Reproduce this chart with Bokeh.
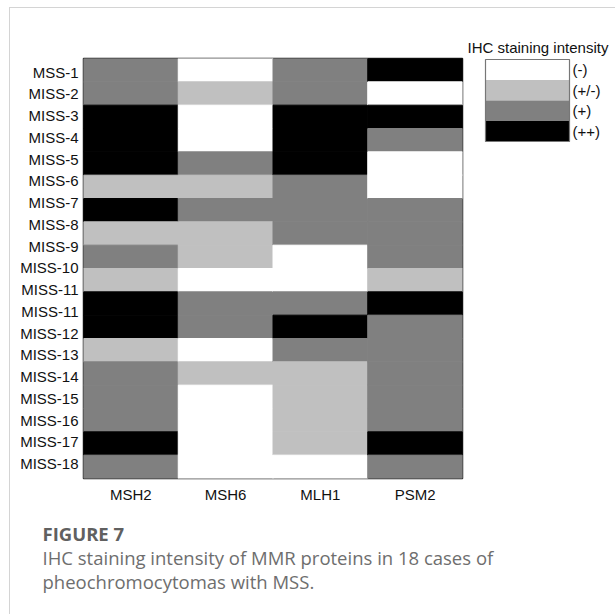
from bokeh.plotting import figure
from bokeh.layouts import column, row
from bokeh.models import Range1d, FixedTicker, ColumnDataSource
from bokeh.core.properties import value
from bokeh.embed import file_html
from bokeh.resources import INLINE

# ---------------- data ----------------
proteins = ["MSH2", "MSH6", "MLH1", "PSM2"]
case_labels = ["MSS-1", "MISS-2", "MISS-3", "MISS-4", "MISS-5", "MISS-6", "MISS-7",
               "MISS-8", "MISS-9", "MISS-10", "MISS-11", "MISS-11", "MISS-12",
               "MISS-13", "MISS-14", "MISS-15", "MISS-16", "MISS-17", "MISS-18"]
# intensity level per case row (top to bottom): 0 = (-), 1 = (+/-), 2 = (+), 3 = (++)
MSH2 = [2, 2, 3, 3, 3, 1, 3, 1, 2, 1, 3, 3, 1, 2, 2, 2, 3, 2]
MSH6 = [0, 1, 0, 0, 2, 1, 2, 1, 1, 0, 2, 2, 0, 1, 0, 0, 0, 0]
MLH1 = [2, 2, 3, 3, 3, 2, 2, 2, 0, 0, 2, 3, 2, 1, 1, 1, 1, 0]
PSM2 = [3, 0, 3, 2, 0, 0, 2, 2, 2, 1, 3, 2, 2, 2, 2, 2, 3, 2]
intensity_labels = ["(-)", "(+/-)", "(+)", "(++)"]
intensity_colors = ["#ffffff", "#c0c0c0", "#808080", "#000000"]
legend_title = "IHC staining intensity"
caption_head = "FIGURE 7"
caption_lines = ["IHC staining intensity of MMR proteins in 18 cases of",
                 "pheochromocytomas with MSS."]

series = [MSH2, MSH6, MLH1, PSM2]
n_rows = len(MSH2)
n_cols = len(proteins)

# ---------------- layout (page pixels) ----------------
OX, OY = 10, 8                 # content origin (inside the page border lines)
FRAME_L, FRAME_T, FRAME_W, FRAME_H = 83, 58, 379, 420
TOP_Y = 56                     # end of the strip holding the legend title
SPLIT_X, SPLIT_Y = 466, 514    # heatmap/legend split, top/caption split
PAGE_W, PAGE_H = 615, 614
FONT = "Liberation Sans"


def sy(py):
    return n_rows - (py - FRAME_T) / FRAME_H * n_rows


# ---------------- heatmap ----------------
heat = figure(frame_width=FRAME_W, frame_height=FRAME_H,
              x_range=Range1d(0, n_cols), y_range=Range1d(0, n_rows),
              min_border_left=FRAME_L - OX, min_border_top=FRAME_T - TOP_Y,
              min_border_right=SPLIT_X - FRAME_L - FRAME_W,
              min_border_bottom=SPLIT_Y - FRAME_T - FRAME_H,
              output_backend="svg", toolbar_location=None)
heat.background_fill_color = "white"
heat.border_fill_color = "white"
heat.grid.visible = False
heat.outline_line_color = "#222222"
heat.outline_line_width = 1.5

xs, ys, cs = [], [], []
for ci, col in enumerate(series):
    for r, v in enumerate(col):
        xs.append(ci + 0.5)
        ys.append(n_rows - r - 0.5)
        cs.append(intensity_colors[v])
src = ColumnDataSource(dict(x=xs, y=ys, c=cs))
heat.rect(x="x", y="y", width=1, height=1, fill_color="c", line_color="c",
          line_width=1, source=src)

xt = [i + 0.5 for i in range(n_cols)]
heat.xaxis.ticker = FixedTicker(ticks=xt)
heat.xaxis.major_label_overrides = {t: lab for t, lab in zip(xt, proteins)}
yt = [sy(71.7 + 21.75 * k) for k in range(len(case_labels))]
heat.yaxis.ticker = FixedTicker(ticks=yt)
heat.yaxis.major_label_overrides = {t: lab for t, lab in zip(yt, case_labels)}
for ax in (heat.xaxis[0], heat.yaxis[0]):
    ax.axis_line_color = None
    ax.major_tick_line_color = None
    ax.minor_tick_line_color = None
    ax.major_tick_out = 0
    ax.major_tick_in = 0
    ax.major_label_text_font = FONT
    ax.major_label_text_font_size = "15px"
    ax.major_label_text_color = "#111111"
heat.xaxis.major_label_standoff = 7
heat.yaxis.major_label_standoff = 5


def blank(w, h, x0, x1, y_top, y_bot, bt=0, bb=0):
    f = figure(width=w, height=h, x_range=Range1d(x0, x1), y_range=Range1d(y_bot, y_top),
               x_axis_type=None, y_axis_type=None, min_border=0,
               min_border_left=0, min_border_right=0, min_border_top=bt, min_border_bottom=bb,
               output_backend="svg", toolbar_location=None)
    f.grid.visible = False
    f.outline_line_color = None
    f.background_fill_color = "white"
    f.border_fill_color = "white"
    return f


# ---------------- legend title strip ----------------
top = blank(PAGE_W - OX, TOP_Y - OY, OX, PAGE_W, OY, TOP_Y)
top.text(x=[467], y=[47], text=[legend_title], text_font=value(FONT),
         text_font_size="15px", text_baseline="middle", text_color="#111111")

# ---------------- legend panel (frame aligned with heatmap frame) ----------------
leg = blank(PAGE_W - SPLIT_X, SPLIT_Y - TOP_Y, SPLIT_X, PAGE_W, FRAME_T, FRAME_T + FRAME_H,
            bt=FRAME_T - TOP_Y, bb=SPLIT_Y - FRAME_T - FRAME_H)
sw_top, sw_h = 59, 20.5
tops = [sw_top + i * sw_h for i in range(len(intensity_labels))]
leg.quad(left=485, right=569, top=tops, bottom=[t + sw_h for t in tops],
         fill_color=intensity_colors, line_color=None)
leg.quad(left=[485], right=[569], top=[sw_top], bottom=[sw_top + len(tops) * sw_h],
         fill_alpha=0, line_color="#777777", line_width=1.2)
leg.text(x=572, y=[t + sw_h / 2 for t in tops], text=intensity_labels,
         text_font=value(FONT), text_font_size="15px", text_baseline="middle",
         text_color="#111111")

# ---------------- caption panel ----------------
cap = blank(PAGE_W - OX, PAGE_H - SPLIT_Y, OX, PAGE_W, SPLIT_Y, PAGE_H)
cap.text(x=[42], y=[533], text=[caption_head], text_font=value("Open Sans"),
         text_font_style="bold", text_font_size="18.5px", text_baseline="middle",
         text_color="#606060")
cap.text(x=42, y=[557 + 24 * k for k in range(len(caption_lines))], text=caption_lines,
         text_font=value("Open Sans"), text_font_size="18.5px", text_baseline="middle",
         text_color="#6e6e6e")

root = column(top, row(heat, leg), cap,
              styles={"margin-left": "9px", "margin-top": "7px",
                      "border-left": "1px solid #d4d4d4",
                      "border-top": "1px solid #d4d4d4"})

open("out.html", "w").write(file_html(root, INLINE))
